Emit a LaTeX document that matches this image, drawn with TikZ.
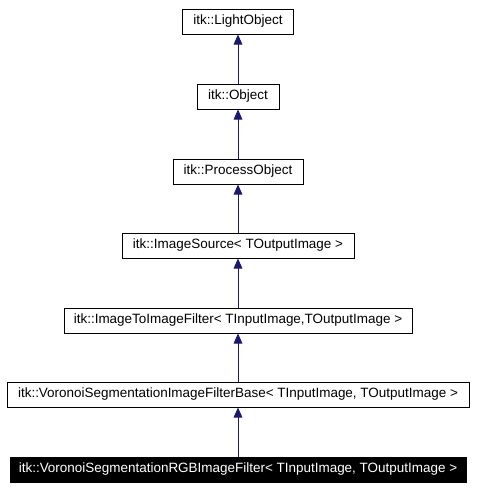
\documentclass[tikz,border=0pt]{standalone}
\usepackage{fontspec}
\setmainfont{Liberation Sans}
\usetikzlibrary{arrows.meta}
\definecolor{edgeblue}{RGB}{25,25,112}
\tikzset{
  cls/.style={draw=black, line width=0.75pt, inner sep=0pt, minimum height=18.75pt, font=\fontsize{10.1}{12}\selectfont},
  cur/.style={cls, fill=black, text=white},
  inh/.style={draw=edgeblue, line width=0.75pt, -{Triangle[length=7.5pt,width=6.5pt]}}
}
\begin{document}
\begin{tikzpicture}[x=0.75pt,y=-0.75pt]
\useasboundingbox (0,0) rectangle (476,490);
\node[cls, minimum width=83.25pt] (lo) at (238,21.5) {itk::LightObject};
\node[cls, minimum width=61.5pt] (obj) at (238,96.5) {itk::Object};
\node[cls, minimum width=97.5pt] (po) at (238,171.5) {itk::ProcessObject};
\node[cls, minimum width=174pt] (is) at (238,245.5) {itk::ImageSource< TOutputImage >};
\node[cls, minimum width=261pt] (itif) at (238,320.5) {itk::ImageToImageFilter< TInputImage,TOutputImage >};
\node[cls, minimum width=346.5pt] (base) at (238,394.5) {itk::VoronoiSegmentationImageFilterBase< TInputImage, TOutputImage >};
\node[cur, minimum width=342pt] (rgb) at (238,469.5) {itk::VoronoiSegmentationRGBImageFilter< TInputImage, TOutputImage >};
\draw[inh] (obj) -- (lo);
\draw[inh] (po) -- (obj);
\draw[inh] (is) -- (po);
\draw[inh] (itif) -- (is);
\draw[inh] (base) -- (itif);
\draw[inh] (rgb) -- (base);
\end{tikzpicture}
\end{document}
